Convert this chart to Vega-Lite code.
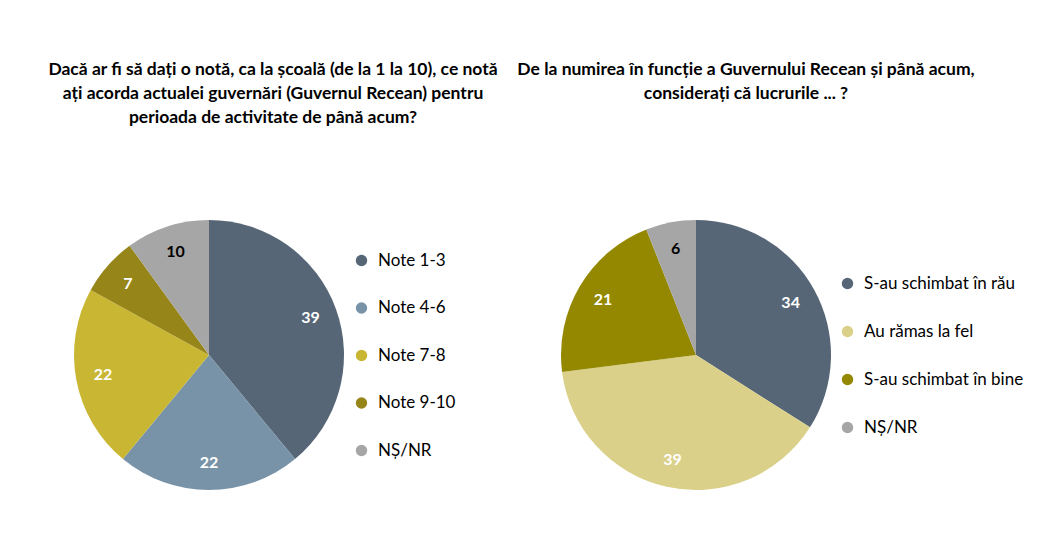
{
  "$schema": "https://vega.github.io/schema/vega-lite/v6.json",
  "background": "white",
  "padding": {"left": 48, "top": 60, "right": 5, "bottom": 5},
  "bounds": "flush",
  "spacing": 217,
  "datasets": {
    "left": [
      {"cat": "Note 1-3", "val": 39, "ord": 1},
      {"cat": "Note 4-6", "val": 22, "ord": 2},
      {"cat": "Note 7-8", "val": 22, "ord": 3},
      {"cat": "Note 9-10", "val": 7, "ord": 4},
      {"cat": "NȘ/NR", "val": 10, "ord": 5}
    ],
    "right": [
      {"cat": "S-au schimbat în rău", "val": 34, "ord": 1},
      {"cat": "Au rămas la fel", "val": 39, "ord": 2},
      {"cat": "S-au schimbat în bine", "val": 21, "ord": 3},
      {"cat": "NȘ/NR", "val": 6, "ord": 4}
    ]
  },
  "config": {
    "view": {"stroke": null},
    "font": "Lato",
    "title": {"font": "Lato", "fontSize": 17.5, "fontWeight": "bold", "color": "#000000", "lineHeight": 24, "anchor": "middle"},
    "legend": {
      "orient": "none",
      "title": null,
      "symbolType": "circle",
      "symbolSize": 130,
      "symbolStrokeWidth": 0,
      "labelFont": "Lato",
      "labelFontSize": 17,
      "labelColor": "#000000",
      "labelOffset": 8,
      "rowPadding": 30,
      "padding": 0
    }
  },
  "resolve": {"scale": {"color": "independent"}, "legend": {"color": "independent"}},
  "hconcat": [
    {
      "width": 270,
      "height": 270,
      "title": {
        "text": ["Dacă ar fi să dați o notă, ca la școală (de la 1 la 10), ce notă", "ați acorda actualei guvernări (Guvernul Recean) pentru", "perioada de activitate de până acum?"],
        "offset": 94,
        "dx": 64
      },
      "data": {"name": "left"},
      "encoding": {
        "theta": {"field": "val", "type": "quantitative", "stack": true},
        "order": {"field": "ord", "type": "quantitative"}
      },
      "layer": [
        {
          "mark": {"type": "arc", "outerRadius": 135},
          "encoding": {
            "color": {
              "field": "cat",
              "type": "nominal",
              "sort": null,
              "scale": {
                "domain": ["Note 1-3", "Note 4-6", "Note 7-8", "Note 9-10", "NȘ/NR"],
                "range": ["#566677", "#7893a8", "#c9b633", "#968519", "#a6a6a6"]
              },
              "legend": {"legendX": 279, "legendY": 32, "rowPadding": 29.5}
            }
          }
        },
        {
          "mark": {"type": "text", "radius": 108, "font": "Lato", "fontWeight": "bold", "fontSize": 16},
          "encoding": {
            "text": {"field": "val", "type": "quantitative"},
            "color": {"condition": {"test": "datum.cat === 'NȘ/NR'", "value": "#000000"}, "value": "#ffffff"}
          }
        }
      ]
    },
    {
      "width": 270,
      "height": 270,
      "title": {
        "text": ["De la numirea în funcție a Guvernului Recean și până acum,", "considerați că lucrurile ... ?"],
        "offset": 118,
        "dx": 50
      },
      "data": {"name": "right"},
      "encoding": {
        "theta": {"field": "val", "type": "quantitative", "stack": true},
        "order": {"field": "ord", "type": "quantitative"}
      },
      "layer": [
        {
          "mark": {"type": "arc", "outerRadius": 135},
          "encoding": {
            "color": {
              "field": "cat",
              "type": "nominal",
              "sort": null,
              "scale": {
                "domain": ["S-au schimbat în rău", "Au rămas la fel", "S-au schimbat în bine", "NȘ/NR"],
                "range": ["#566677", "#dbd089", "#948800", "#a6a6a6"]
              },
              "legend": {"legendX": 278, "legendY": 55, "rowPadding": 30}
            }
          }
        },
        {
          "mark": {"type": "text", "radius": 108, "font": "Lato", "fontWeight": "bold", "fontSize": 16},
          "encoding": {
            "text": {"field": "val", "type": "quantitative"},
            "color": {"condition": {"test": "datum.cat === 'NȘ/NR'", "value": "#000000"}, "value": "#ffffff"}
          }
        }
      ]
    }
  ]
}
